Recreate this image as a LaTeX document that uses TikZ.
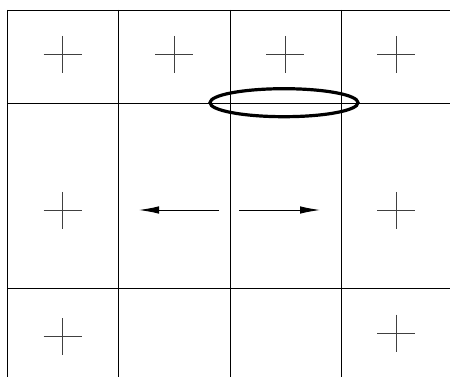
\documentclass[tikz,border=0pt]{standalone}
\usetikzlibrary{arrows.meta}
\begin{document}
\begin{tikzpicture}[x=1pt,y=-1pt,
  gridline/.style={line width=0.9pt,black},
  crossline/.style={line width=0.9pt,black!75},
  ring/.style={line width=3.2pt,black},
  arr/.style={line width=0.9pt,-{Latex[length=20pt,width=7.5pt]}}]
\useasboundingbox (0,0) rectangle (450,377);
% grid
\foreach \x in {7,118,230,341} \draw[gridline] (\x,10) -- (\x,377);
\foreach \y in {10,103,288} \draw[gridline] (7,\y) -- (450,\y);
% crosses
\foreach \cx/\cy in {62.5/54.5,174/54.5,285/54.5,396/54.5,62.5/210.5,396/210.5,62.5/336.5,396/333}
  \draw[crossline] (\cx-19,\cy) -- (\cx+19,\cy) (\cx,\cy-18.5) -- (\cx,\cy+18.5);
% ellipse
\draw[ring] (284,102.7) ellipse [x radius=74, y radius=14];
% arrows
\coordinate (la) at (219,210);
\coordinate (lb) at (139,210);
\coordinate (ra) at (239,210);
\coordinate (rb) at (320,210);
\draw[arr] (la) -- (lb);
\draw[arr] (ra) -- (rb);
\end{tikzpicture}
\end{document}
